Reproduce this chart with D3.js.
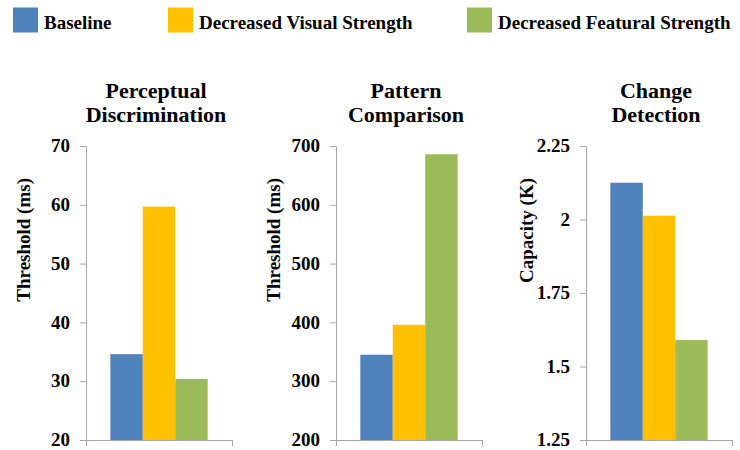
<!DOCTYPE html>
<html>
<head>
<meta charset="utf-8">
<script src="https://cdn.jsdelivr.net/npm/d3@7"></script>
<style>
  html, body { margin: 0; padding: 0; background: #fff; }
  svg text { font-family: "Liberation Serif", "Times New Roman", serif; font-weight: bold; fill: #000; }
</style>
</head>
<body>
<svg id="chart" width="740" height="450"></svg>
<script>
// ---- data ----
const seriesNames = ["Baseline", "Decreased Visual Strength", "Decreased Featural Strength"];
const seriesColors = ["#4F81BD", "#FFC000", "#9BBB59"];

const panelTitles = [["Perceptual", "Discrimination"], ["Pattern", "Comparison"], ["Change", "Detection"]];
const axisTitles = ["Threshold (ms)", "Threshold (ms)", "Capacity (K)"];

const perceptualValues = [34.6, 59.7, 30.4];
const patternValues = [345, 396, 686];
const changeValues = [2.125, 2.013, 1.59];

const perceptualTicks = [20, 30, 40, 50, 60, 70];
const patternTicks = [200, 300, 400, 500, 600, 700];
const changeTicks = [1.25, 1.5, 1.75, 2, 2.25];

// ---- layout ----
const svg = d3.select("#chart");
const axisColor = "#a6a6a6";
const plotTop = 146, plotBottom = 440, plotW = 146;

const panels = [
  { values: perceptualValues, ticks: perceptualTicks, axisX: 86, titleX: 29.5, fmt: d => String(d) },
  { values: patternValues, ticks: patternTicks, axisX: 336, titleX: 279.5, fmt: d => String(d) },
  { values: changeValues, ticks: changeTicks, axisX: 586, titleX: 533, fmt: d => String(d) }
];

panels.forEach((p, i) => {
  const g = svg.append("g").attr("transform", `translate(${p.axisX},0)`);
  const y = d3.scaleLinear()
    .domain([p.ticks[0], p.ticks[p.ticks.length - 1]])
    .range([plotBottom, plotTop]);

  const outer = d3.scaleBand().domain([i]).range([0, plotW]).paddingInner(0).paddingOuter(0.25);
  const inner = d3.scaleBand().domain(seriesNames).range([0, outer.bandwidth()]);

  // bars
  g.selectAll("rect.bar")
    .data(p.values)
    .join("rect")
    .attr("class", "bar")
    .attr("x", (d, j) => outer(i) + inner(seriesNames[j]))
    .attr("width", inner.bandwidth())
    .attr("y", d => y(d))
    .attr("height", d => y.range()[0] - y(d))
    .attr("fill", (d, j) => seriesColors[j]);

  // y axis
  const ya = g.append("g")
    .call(d3.axisLeft(y).tickValues(p.ticks).tickFormat(p.fmt).tickSize(6).tickPadding(10).tickSizeOuter(0));
  ya.select(".domain").attr("stroke", axisColor);
  ya.selectAll(".tick line").attr("stroke", axisColor);
  ya.selectAll(".tick text")
    .style("font-family", '"Liberation Serif", "Times New Roman", serif')
    .style("font-weight", "bold")
    .style("font-size", "19px")
    .attr("dy", "0.3em")
    .attr("fill", "#000");

  // x axis (category axis with end ticks)
  const xa = g.append("g").attr("transform", `translate(0,${plotBottom})`);
  const xs = d3.scaleLinear().domain([0, 1]).range([0, plotW]);
  xa.call(d3.axisBottom(xs).tickValues([0, 1]).tickFormat("").tickSize(6).tickSizeOuter(0));
  xa.select(".domain").attr("stroke", axisColor);
  xa.selectAll(".tick line").attr("stroke", axisColor);

  // axis title
  svg.append("text")
    .attr("transform", `translate(${p.titleX},178) rotate(-90)`)
    .attr("text-anchor", "end")
    .style("font-size", "19px")
    .text(axisTitles[i]);

  // panel title
  const cx = p.axisX + plotW / 2 - 3;
  panelTitles[i].forEach((line, k) => {
    svg.append("text")
      .attr("x", cx)
      .attr("y", 98.3 + k * 24)
      .attr("text-anchor", "middle")
      .style("font-size", "22px")
      .text(line);
  });
});

// ---- legend ----
const legendX = [13, 168, 467];
const legend = svg.append("g");
seriesNames.forEach((name, j) => {
  legend.append("rect")
    .attr("x", legendX[j]).attr("y", 7.5)
    .attr("width", 25).attr("height", 25)
    .attr("fill", seriesColors[j]);
  legend.append("text")
    .attr("x", legendX[j] + 31).attr("y", 28.5)
    .style("font-size", "19px")
    .text(name);
});
</script>
</body>
</html>
